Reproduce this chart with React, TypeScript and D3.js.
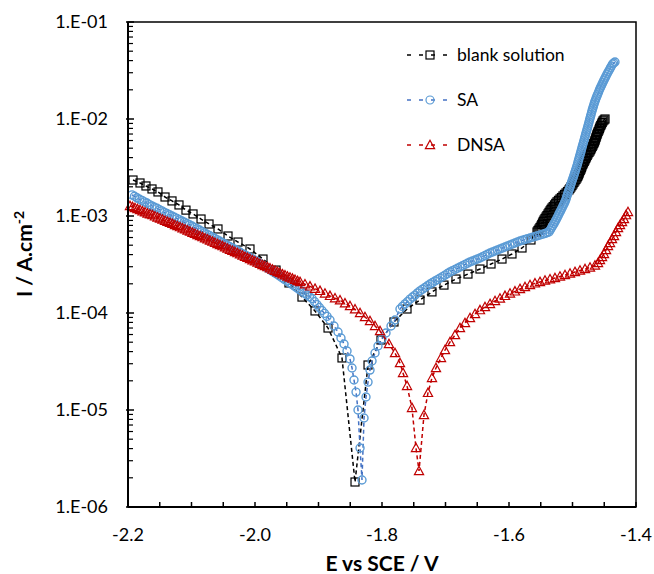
import React from 'react';
import * as d3 from 'd3';

// ---------- axis / labels ----------
const X_MAJOR = [-2.2, -2.0, -1.8, -1.6, -1.4];
const X_LABELS = ['-2.2', '-2.0', '-1.8', '-1.6', '-1.4'];
const Y_DECADES = [1e-1, 1e-2, 1e-3, 1e-4, 1e-5, 1e-6];
const Y_LABELS = ['1.E-01', '1.E-02', '1.E-03', '1.E-04', '1.E-05', '1.E-06'];
const SERIES_NAMES = ['blank solution', 'SA', 'DNSA'];
const X_TITLE = 'E vs SCE / V';

// ---------- data: [E (V vs SCE), I (A/cm2)] ----------
const BLANK: [number, number][] = [
  [-2.1921, 2.35e-3], [-2.1811, 2.19e-3], [-2.1717, 2.04e-3], [-2.1622, 1.90e-3], [-2.1528, 1.77e-3],
  [-2.1417, 1.57e-3], [-2.1307, 1.43e-3], [-2.1197, 1.30e-3], [-2.1087, 1.15e-3], [-2.0976, 1.05e-3],
  [-2.0850, 9.31e-4], [-2.0724, 8.27e-4], [-2.0583, 7.35e-4], [-2.0425, 6.22e-4], [-2.0268, 5.39e-4],
  [-2.0079, 4.57e-4], [-1.9874, 3.60e-4], [-1.9669, 2.77e-4], [-1.9465, 2.04e-4], [-1.9260, 1.46e-4],
  [-1.9055, 1.05e-4], [-1.8850, 7.00e-5], [-1.8630, 3.44e-5], [-1.8425, 1.81e-6],
  [-1.8220, 2.91e-5], [-1.8016, 5.27e-5], [-1.7811, 8.08e-5], [-1.7606, 1.10e-4], [-1.7402, 1.36e-4],
  [-1.7213, 1.65e-4], [-1.7024, 1.94e-4], [-1.6835, 2.24e-4], [-1.6646, 2.52e-4], [-1.6457, 2.84e-4],
  [-1.6283, 3.20e-4], [-1.6110, 3.60e-4], [-1.5953, 4.06e-4], [-1.5795, 4.68e-4], [-1.5654, 5.66e-4],
  [-1.5559, 6.84e-4], [-1.5544, 7.09e-4], [-1.5528, 7.34e-4], [-1.5512, 7.61e-4], [-1.5496, 7.89e-4],
  [-1.5484, 8.18e-4], [-1.5472, 8.47e-4], [-1.5461, 8.78e-4], [-1.5449, 9.09e-4], [-1.5433, 9.43e-4],
  [-1.5417, 9.77e-4], [-1.5402, 1.01e-3], [-1.5386, 1.05e-3], [-1.5370, 1.09e-3], [-1.5354, 1.13e-3],
  [-1.5339, 1.17e-3], [-1.5323, 1.21e-3], [-1.5304, 1.25e-3], [-1.5284, 1.30e-3], [-1.5264, 1.35e-3],
  [-1.5244, 1.40e-3], [-1.5221, 1.45e-3], [-1.5197, 1.50e-3], [-1.5174, 1.55e-3], [-1.5150, 1.61e-3],
  [-1.5126, 1.67e-3], [-1.5102, 1.73e-3], [-1.5079, 1.79e-3], [-1.5055, 1.86e-3], [-1.5040, 1.92e-3],
  [-1.5024, 1.99e-3], [-1.5008, 2.06e-3], [-1.4992, 2.14e-3], [-1.4977, 2.22e-3], [-1.4961, 2.30e-3],
  [-1.4945, 2.38e-3], [-1.4929, 2.47e-3], [-1.4918, 2.56e-3], [-1.4906, 2.65e-3], [-1.4898, 2.74e-3],
  [-1.4890, 2.84e-3], [-1.4878, 2.94e-3], [-1.4866, 3.05e-3], [-1.4858, 3.16e-3], [-1.4850, 3.28e-3],
  [-1.4839, 3.40e-3], [-1.4827, 3.52e-3], [-1.4815, 3.65e-3], [-1.4803, 3.78e-3], [-1.4792, 3.92e-3],
  [-1.4780, 4.06e-3], [-1.4768, 4.21e-3], [-1.4756, 4.36e-3], [-1.4740, 4.52e-3], [-1.4724, 4.68e-3],
  [-1.4713, 4.85e-3], [-1.4701, 5.03e-3], [-1.4689, 5.21e-3], [-1.4677, 5.39e-3], [-1.4666, 5.59e-3],
  [-1.4654, 5.79e-3], [-1.4646, 6.00e-3], [-1.4638, 6.22e-3], [-1.4630, 6.45e-3], [-1.4622, 6.68e-3],
  [-1.4614, 6.92e-3], [-1.4606, 7.16e-3], [-1.4595, 7.43e-3], [-1.4583, 7.71e-3], [-1.4575, 7.99e-3],
  [-1.4567, 8.27e-3], [-1.4555, 8.57e-3], [-1.4543, 8.88e-3], [-1.4532, 9.21e-3], [-1.4520, 9.54e-3],
  [-1.4504, 9.77e-3], [-1.4488, 1.00e-2],
];

const SA: [number, number][] = [
  [-2.1937, 1.65e-3], [-2.1898, 1.60e-3], [-2.1858, 1.54e-3], [-2.1819, 1.49e-3], [-2.1780, 1.45e-3],
  [-2.1741, 1.40e-3], [-2.1701, 1.36e-3], [-2.1662, 1.31e-3], [-2.1622, 1.27e-3], [-2.1583, 1.23e-3],
  [-2.1543, 1.20e-3], [-2.1504, 1.16e-3], [-2.1465, 1.13e-3], [-2.1426, 1.09e-3], [-2.1386, 1.06e-3],
  [-2.1347, 1.03e-3], [-2.1307, 1.00e-3], [-2.1268, 9.71e-4], [-2.1228, 9.42e-4], [-2.1189, 9.15e-4],
  [-2.1150, 8.88e-4], [-2.1111, 8.62e-4], [-2.1071, 8.37e-4], [-2.1032, 8.13e-4], [-2.0992, 7.89e-4],
  [-2.0953, 7.64e-4], [-2.0913, 7.40e-4], [-2.0874, 7.16e-4], [-2.0835, 6.92e-4], [-2.0796, 6.70e-4],
  [-2.0756, 6.49e-4], [-2.0717, 6.29e-4], [-2.0677, 6.09e-4], [-2.0638, 5.90e-4], [-2.0598, 5.71e-4],
  [-2.0559, 5.52e-4], [-2.0520, 5.34e-4], [-2.0481, 5.17e-4], [-2.0441, 5.01e-4], [-2.0402, 4.85e-4],
  [-2.0362, 4.70e-4], [-2.0323, 4.55e-4], [-2.0283, 4.41e-4], [-2.0244, 4.26e-4], [-2.0205, 4.12e-4],
  [-2.0166, 4.00e-4], [-2.0126, 3.87e-4], [-2.0087, 3.75e-4], [-2.0047, 3.63e-4], [-2.0008, 3.51e-4],
  [-1.9969, 3.40e-4], [-1.9930, 3.27e-4], [-1.9890, 3.15e-4], [-1.9851, 3.03e-4], [-1.9811, 2.92e-4],
  [-1.9772, 2.81e-4], [-1.9732, 2.70e-4], [-1.9693, 2.60e-4], [-1.9654, 2.51e-4], [-1.9615, 2.41e-4],
  [-1.9575, 2.31e-4], [-1.9536, 2.22e-4], [-1.9496, 2.14e-4], [-1.9457, 2.05e-4], [-1.9417, 1.97e-4],
  [-1.9378, 1.89e-4], [-1.9339, 1.81e-4], [-1.9300, 1.74e-4], [-1.9260, 1.67e-4], [-1.9221, 1.60e-4],
  [-1.9181, 1.54e-4], [-1.9142, 1.47e-4], [-1.9102, 1.41e-4], [-1.9063, 1.31e-4], [-1.9024, 1.22e-4],
  [-1.8985, 1.14e-4], [-1.8945, 1.06e-4], [-1.8906, 9.91e-5], [-1.8866, 9.22e-5],
  [-1.8819, 8.47e-5], [-1.8756, 7.35e-5], [-1.8693, 6.37e-5], [-1.8646, 5.52e-5], [-1.8598, 4.79e-5],
  [-1.8551, 4.06e-5], [-1.8504, 3.36e-5], [-1.8472, 2.71e-5], [-1.8441, 2.04e-5], [-1.8409, 1.53e-5],
  [-1.8378, 1.00e-5], [-1.8346, 4.06e-6], [-1.8315, 1.90e-6],
  [-1.8283, 8.27e-6], [-1.8252, 1.36e-5], [-1.8220, 1.94e-5], [-1.8189, 2.58e-5], [-1.8157, 3.20e-5],
  [-1.8110, 3.87e-5], [-1.8063, 4.57e-5], [-1.8000, 5.39e-5], [-1.7937, 6.22e-5], [-1.7858, 7.35e-5],
  [-1.7795, 8.47e-5],
  [-1.7717, 1.10e-4], [-1.7678, 1.17e-4], [-1.7638, 1.24e-4], [-1.7598, 1.31e-4], [-1.7559, 1.39e-4],
  [-1.7520, 1.46e-4], [-1.7480, 1.53e-4], [-1.7441, 1.61e-4], [-1.7402, 1.69e-4], [-1.7362, 1.76e-4],
  [-1.7323, 1.83e-4], [-1.7284, 1.91e-4], [-1.7244, 1.99e-4], [-1.7205, 2.06e-4], [-1.7165, 2.14e-4],
  [-1.7126, 2.21e-4], [-1.7087, 2.29e-4], [-1.7047, 2.37e-4], [-1.7008, 2.46e-4], [-1.6969, 2.55e-4],
  [-1.6929, 2.65e-4], [-1.6890, 2.73e-4], [-1.6850, 2.81e-4], [-1.6811, 2.89e-4], [-1.6772, 2.98e-4],
  [-1.6732, 3.07e-4], [-1.6693, 3.16e-4], [-1.6654, 3.26e-4], [-1.6614, 3.36e-4], [-1.6575, 3.44e-4],
  [-1.6535, 3.52e-4], [-1.6496, 3.60e-4], [-1.6457, 3.69e-4], [-1.6417, 3.80e-4], [-1.6378, 3.91e-4],
  [-1.6339, 4.03e-4], [-1.6299, 4.15e-4], [-1.6260, 4.25e-4], [-1.6220, 4.36e-4], [-1.6181, 4.46e-4],
  [-1.6142, 4.57e-4], [-1.6102, 4.68e-4], [-1.6063, 4.79e-4], [-1.6024, 4.90e-4], [-1.5984, 5.02e-4],
  [-1.5945, 5.14e-4], [-1.5906, 5.27e-4], [-1.5866, 5.39e-4], [-1.5827, 5.52e-4], [-1.5787, 5.62e-4],
  [-1.5748, 5.72e-4], [-1.5709, 5.82e-4], [-1.5669, 5.93e-4], [-1.5630, 6.04e-4], [-1.5591, 6.15e-4],
  [-1.5551, 6.26e-4], [-1.5512, 6.37e-4], [-1.5472, 6.48e-4], [-1.5433, 6.60e-4], [-1.5402, 6.72e-4],
  [-1.5370, 6.84e-4], [-1.5351, 7.18e-4],
  [-1.5332, 7.52e-4], [-1.5313, 7.89e-4], [-1.5294, 8.27e-4], [-1.5277, 8.67e-4], [-1.5260, 9.09e-4],
  [-1.5244, 9.53e-4], [-1.5228, 1.00e-3], [-1.5213, 1.05e-3], [-1.5197, 1.10e-3], [-1.5181, 1.15e-3],
  [-1.5165, 1.21e-3], [-1.5150, 1.27e-3], [-1.5134, 1.33e-3], [-1.5121, 1.39e-3], [-1.5107, 1.46e-3],
  [-1.5097, 1.53e-3], [-1.5087, 1.61e-3], [-1.5077, 1.69e-3], [-1.5066, 1.77e-3], [-1.5055, 1.85e-3],
  [-1.5044, 1.94e-3], [-1.5034, 2.04e-3], [-1.5024, 2.14e-3], [-1.5014, 2.24e-3], [-1.5003, 2.35e-3],
  [-1.4992, 2.46e-3], [-1.4981, 2.58e-3], [-1.4971, 2.71e-3], [-1.4961, 2.84e-3], [-1.4951, 2.98e-3],
  [-1.4940, 3.12e-3], [-1.4931, 3.28e-3], [-1.4921, 3.44e-3], [-1.4913, 3.61e-3], [-1.4904, 3.78e-3],
  [-1.4896, 3.96e-3], [-1.4887, 4.15e-3], [-1.4878, 4.36e-3], [-1.4869, 4.57e-3], [-1.4861, 4.79e-3],
  [-1.4852, 5.02e-3], [-1.4844, 5.27e-3], [-1.4835, 5.52e-3], [-1.4826, 5.79e-3], [-1.4817, 6.07e-3],
  [-1.4809, 6.37e-3], [-1.4800, 6.68e-3], [-1.4792, 7.01e-3], [-1.4783, 7.35e-3], [-1.4774, 7.71e-3],
  [-1.4765, 8.08e-3], [-1.4757, 8.47e-3], [-1.4748, 8.88e-3], [-1.4740, 9.32e-3], [-1.4732, 9.77e-3],
  [-1.4724, 1.02e-2], [-1.4715, 1.07e-2], [-1.4707, 1.12e-2], [-1.4698, 1.18e-2], [-1.4689, 1.24e-2],
  [-1.4679, 1.30e-2], [-1.4670, 1.36e-2], [-1.4660, 1.43e-2], [-1.4650, 1.50e-2], [-1.4639, 1.57e-2],
  [-1.4627, 1.65e-2], [-1.4614, 1.73e-2], [-1.4602, 1.81e-2], [-1.4589, 1.90e-2], [-1.4576, 2.00e-2],
  [-1.4562, 2.09e-2], [-1.4548, 2.19e-2], [-1.4534, 2.29e-2], [-1.4519, 2.40e-2], [-1.4504, 2.52e-2],
  [-1.4488, 2.64e-2], [-1.4472, 2.77e-2], [-1.4456, 2.91e-2], [-1.4439, 3.05e-2], [-1.4421, 3.20e-2],
  [-1.4403, 3.36e-2], [-1.4386, 3.52e-2], [-1.4369, 3.69e-2], [-1.4350, 3.78e-2], [-1.4331, 3.87e-2],
];

const DNSA: [number, number][] = [
  [-2.1969, 1.27e-3], [-2.1930, 1.24e-3], [-2.1890, 1.21e-3], [-2.1851, 1.18e-3], [-2.1811, 1.15e-3],
  [-2.1772, 1.12e-3], [-2.1732, 1.09e-3], [-2.1693, 1.06e-3], [-2.1654, 1.04e-3], [-2.1615, 1.02e-3],
  [-2.1575, 9.91e-4], [-2.1536, 9.66e-4], [-2.1496, 9.42e-4], [-2.1457, 9.18e-4], [-2.1417, 8.94e-4],
  [-2.1378, 8.72e-4], [-2.1339, 8.51e-4], [-2.1300, 8.29e-4], [-2.1260, 8.08e-4], [-2.1221, 7.87e-4],
  [-2.1181, 7.67e-4], [-2.1142, 7.48e-4], [-2.1102, 7.29e-4], [-2.1063, 7.10e-4], [-2.1024, 6.92e-4],
  [-2.0985, 6.73e-4], [-2.0945, 6.55e-4], [-2.0906, 6.38e-4], [-2.0866, 6.22e-4], [-2.0827, 6.05e-4],
  [-2.0787, 5.89e-4], [-2.0748, 5.74e-4], [-2.0709, 5.59e-4], [-2.0670, 5.44e-4], [-2.0630, 5.29e-4],
  [-2.0591, 5.15e-4], [-2.0551, 5.02e-4], [-2.0512, 4.89e-4], [-2.0472, 4.76e-4], [-2.0433, 4.62e-4],
  [-2.0394, 4.49e-4], [-2.0355, 4.37e-4], [-2.0315, 4.25e-4], [-2.0276, 4.14e-4], [-2.0236, 4.03e-4],
  [-2.0197, 3.91e-4], [-2.0157, 3.80e-4], [-2.0118, 3.70e-4], [-2.0079, 3.60e-4], [-2.0040, 3.50e-4],
  [-2.0000, 3.41e-4], [-1.9961, 3.31e-4], [-1.9921, 3.22e-4], [-1.9882, 3.13e-4], [-1.9843, 3.05e-4],
  [-1.9804, 2.97e-4], [-1.9764, 2.89e-4], [-1.9725, 2.81e-4], [-1.9685, 2.73e-4], [-1.9646, 2.65e-4],
  [-1.9606, 2.58e-4], [-1.9567, 2.51e-4], [-1.9528, 2.45e-4], [-1.9489, 2.38e-4], [-1.9449, 2.32e-4],
  [-1.9410, 2.26e-4], [-1.9370, 2.20e-4], [-1.9331, 2.14e-4], [-1.9291, 2.09e-4],
  [-1.9213, 1.98e-4], [-1.9134, 1.88e-4], [-1.9055, 1.78e-4], [-1.8976, 1.69e-4], [-1.8898, 1.59e-4],
  [-1.8819, 1.50e-4], [-1.8740, 1.42e-4], [-1.8661, 1.35e-4], [-1.8583, 1.26e-4], [-1.8504, 1.18e-4],
  [-1.8425, 1.09e-4], [-1.8346, 1.00e-4], [-1.8268, 9.09e-5], [-1.8189, 8.27e-5], [-1.8110, 7.35e-5],
  [-1.8031, 6.52e-5],
  [-1.7890, 4.79e-5], [-1.7795, 3.87e-5], [-1.7717, 3.05e-5], [-1.7669, 2.41e-5], [-1.7606, 1.77e-5],
  [-1.7528, 1.05e-5], [-1.7465, 4.06e-6], [-1.7417, 2.35e-6],
  [-1.7339, 8.88e-6], [-1.7276, 1.50e-5], [-1.7213, 2.14e-5], [-1.7150, 2.71e-5], [-1.7071, 3.44e-5],
  [-1.7008, 4.15e-5], [-1.6929, 5.02e-5], [-1.6850, 5.93e-5], [-1.6772, 7.00e-5],
  [-1.6693, 7.89e-5], [-1.6614, 8.88e-5], [-1.6535, 9.77e-5], [-1.6457, 1.07e-4], [-1.6378, 1.15e-4],
  [-1.6299, 1.24e-4], [-1.6220, 1.33e-4], [-1.6142, 1.41e-4], [-1.6063, 1.50e-4], [-1.5984, 1.59e-4],
  [-1.5906, 1.67e-4], [-1.5827, 1.77e-4], [-1.5748, 1.85e-4], [-1.5669, 1.94e-4], [-1.5591, 2.02e-4],
  [-1.5512, 2.09e-4], [-1.5433, 2.16e-4], [-1.5354, 2.23e-4], [-1.5276, 2.29e-4], [-1.5197, 2.38e-4],
  [-1.5118, 2.46e-4], [-1.5039, 2.55e-4], [-1.4961, 2.65e-4], [-1.4882, 2.74e-4], [-1.4803, 2.84e-4],
  [-1.4724, 2.94e-4], [-1.4646, 3.09e-4],
  [-1.4598, 3.28e-4], [-1.4567, 3.52e-4], [-1.4535, 3.78e-4], [-1.4504, 4.06e-4], [-1.4472, 4.46e-4],
  [-1.4441, 4.91e-4], [-1.4409, 5.27e-4], [-1.4378, 5.79e-4], [-1.4346, 6.22e-4], [-1.4315, 6.84e-4],
  [-1.4283, 7.52e-4], [-1.4252, 8.08e-4], [-1.4220, 8.67e-4], [-1.4189, 9.31e-4], [-1.4157, 1.02e-3],
  [-1.4126, 1.10e-3],
];

const FONT = 'Lato, "Open Sans", sans-serif';
const C_BLANK = '#000000';
const C_SA_MARK = '#5B9BD5';
const C_SA_LINE = '#4472C4';
const C_DNSA = '#C00000';

type Shape = 'square' | 'circle' | 'triangle';

function Marker({ cx, cy, shape, color, sw }: { cx: number; cy: number; shape: Shape; color: string; sw: number }) {
  if (shape === 'square')
    return <rect x={cx - 4} y={cy - 4} width={8} height={8} fill="none" stroke={color} strokeWidth={sw} />;
  if (shape === 'circle') return <circle cx={cx} cy={cy} r={4} fill="none" stroke={color} strokeWidth={sw} />;
  return (
    <path
      d={`M${cx},${cy - 4.8}L${cx + 4.6},${cy + 3.6}L${cx - 4.6},${cy + 3.6}Z`}
      fill="none"
      stroke={color}
      strokeWidth={sw}
    />
  );
}

export default function App() {
  const W = 654;
  const H = 574;
  const L = 128, R = 636, T = 22, B = 507;
  const x = d3.scaleLinear().domain([-2.2, -1.4]).range([L, R]);
  const y = d3.scaleLog().domain([1e-6, 1e-1]).range([B, T]);
  const line = d3.line<[number, number]>().x((d) => x(d[0])).y((d) => y(d[1]));

  const xMinor = d3.range(0, 17).map((i) => -2.2 + i * 0.05);
  const yMinor: number[] = [];
  for (let e = -6; e < -1; e++) for (let k = 2; k <= 9; k++) yMinor.push(k * Math.pow(10, e));

  const series = [
    { data: BLANK, shape: 'square' as Shape, mark: C_BLANK, lc: C_BLANK, sw: 1.2 },
    { data: SA, shape: 'circle' as Shape, mark: C_SA_MARK, lc: C_SA_LINE, sw: 1.4 },
    { data: DNSA, shape: 'triangle' as Shape, mark: C_DNSA, lc: C_DNSA, sw: 1.2 },
  ];

  const legendY = [55, 100, 145];

  return (
    <svg width={W} height={H} style={{ position: 'absolute', left: 0, top: 0, background: '#fff' }} fontFamily={FONT}>
      <rect x={0} y={0} width={W} height={H} fill="#fff" />
      <rect x={L} y={T} width={R - L} height={B - T} fill="none" stroke="#000" strokeWidth={1.5} />

      {series.map((s, si) => (
        <g key={si}>
          <path d={line(s.data) || ''} fill="none" stroke={s.lc} strokeWidth={1.5} strokeDasharray="4,3" />
          {s.data.map((d, i) => (
            <Marker key={i} cx={x(d[0])} cy={y(d[1])} shape={s.shape} color={s.mark} sw={s.sw} />
          ))}
        </g>
      ))}

      <line x1={L} y1={T} x2={L} y2={B} stroke="#000" strokeWidth={2} />
      <line x1={L} y1={B} x2={R} y2={B} stroke="#000" strokeWidth={2} />
      {xMinor.map((v, i) => (
        <line key={'xt' + i} x1={x(v)} x2={x(v)} y1={B} y2={B - 5} stroke="#000" strokeWidth={1.5} />
      ))}
      {Y_DECADES.map((v, i) => (
        <line key={'yd' + i} x1={L - 2} x2={L + 6} y1={y(v)} y2={y(v)} stroke="#000" strokeWidth={1.5} />
      ))}
      {yMinor.map((v, i) => (
        <line key={'ym' + i} x1={L} x2={L + 5} y1={y(v)} y2={y(v)} stroke="#000" strokeWidth={1.2} />
      ))}

      {Y_DECADES.map((v, i) => (
        <text key={'yl' + i} x={108} y={y(v)} dy="0.35em" textAnchor="end" fontSize={18} fill="#000">
          {Y_LABELS[i]}
        </text>
      ))}
      {X_MAJOR.map((v, i) => (
        <text key={'xl' + i} x={x(v)} y={541} textAnchor="middle" fontSize={18} fill="#000">
          {X_LABELS[i]}
        </text>
      ))}

      <text x={(L + R) / 2} y={571} textAnchor="middle" fontSize={21} fontWeight="bold" fill="#000">
        {X_TITLE}
      </text>
      <text transform="translate(32,254) rotate(-90)" textAnchor="middle" fontSize={21} fontWeight="bold" fill="#000">
        I / A.cm<tspan fontSize={14} dy={-8}>-2</tspan>
      </text>

      {series.map((s, i) => (
        <g key={'lg' + i}>
          <line x1={407} x2={449} y1={legendY[i]} y2={legendY[i]} stroke={s.lc} strokeWidth={1.5} strokeDasharray="4,8" />
          <Marker cx={430} cy={legendY[i]} shape={s.shape} color={s.mark} sw={1.2} />
          <text x={457} y={legendY[i]} dy="0.35em" fontSize={17.5} fill="#000">
            {SERIES_NAMES[i]}
          </text>
        </g>
      ))}
    </svg>
  );
}
